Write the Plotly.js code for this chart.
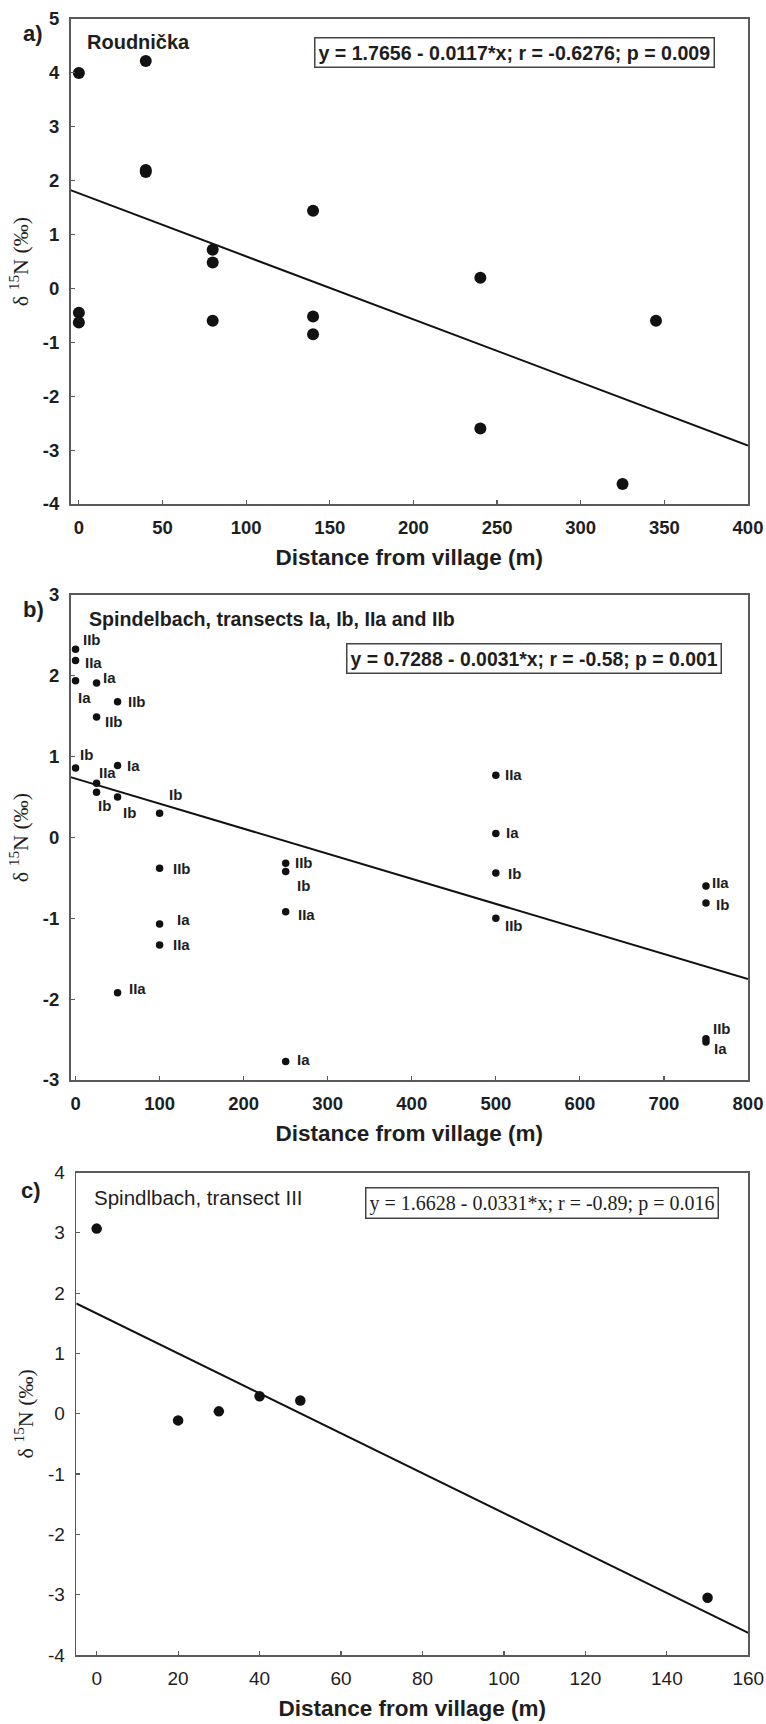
<!DOCTYPE html>
<html>
<head>
<meta charset="utf-8">
<script src="https://cdn.plot.ly/plotly-3.0.1.min.js"></script>
<style>html,body{margin:0;padding:0;background:#fff}</style>
</head>
<body>
<div id="chart" style="width:766px;height:1724px"></div>
<script>
// ---------- Panel a: Roudnička ----------
const aDistance = [0, 0, 0, 40, 40, 40, 80, 80, 80, 140, 140, 140, 240, 240, 325, 345];
const aDelta15N = [4.0, -0.45, -0.63, 4.22, 2.2, 2.16, 0.72, 0.48, -0.6, 1.44, -0.52, -0.85, 0.2, -2.6, -3.63, -0.6];
const aIntercept = 1.7656, aSlope = -0.0117;
const aEquation = "y = 1.7656 - 0.0117*x; r = -0.6276; p = 0.009";
const aName = "Roudnička";
const aXTicks = [0, 50, 100, 150, 200, 250, 300, 350, 400];
const aXTickText = ["0", "50", "100", "150", "200", "250", "300", "350", "400"];
const aYTicks = [-4, -3, -2, -1, 0, 1, 2, 3, 4, 5];
const aYTickText = ["-4", "-3", "-2", "-1", "0", "1", "2", "3", "4", "5"];

// ---------- Panel b: Spindelbach transects Ia, Ib, IIa, IIb ----------
const bDistance = [0, 0, 0, 25, 50, 25, 0, 25, 25, 50, 50, 100,
                   100, 100, 100, 50, 250, 250, 250, 250,
                   500, 500, 500, 500, 750, 750, 750, 750];
const bDelta15N = [2.33, 2.19, 1.94, 1.91, 1.68, 1.49, 0.86, 0.67, 0.56, 0.89, 0.5, 0.3,
                   -0.38, -1.07, -1.33, -1.92, -0.32, -0.42, -0.92, -2.77,
                   0.77, 0.05, -0.44, -1.0, -0.6, -0.81, -2.49, -2.53];
const bTransect = ["IIb", "IIa", "Ia", "Ia", "IIb", "IIb", "Ib", "IIa", "Ib", "Ia", "Ib", "Ib",
                   "IIb", "Ia", "IIa", "IIa", "IIb", "Ib", "IIa", "Ia",
                   "IIa", "Ia", "Ib", "IIb", "IIa", "Ib", "IIb", "Ia"];
const bIntercept = 0.7288, bSlope = -0.0031;
const bEquation = "y = 0.7288 - 0.0031*x; r = -0.58; p = 0.001";
const bName = "Spindelbach, transects Ia, Ib, IIa and IIb";
const bXTicks = [0, 100, 200, 300, 400, 500, 600, 700, 800];
const bXTickText = ["0", "100", "200", "300", "400", "500", "600", "700", "800"];
const bYTicks = [-3, -2, -1, 0, 1, 2, 3];
const bYTickText = ["-3", "-2", "-1", "0", "1", "2", "3"];

// ---------- Panel c: Spindlbach transect III ----------
const cDistance = [0, 20, 30, 40, 50, 150];
const cDelta15N = [3.07, -0.11, 0.04, 0.29, 0.22, -3.05];
const cIntercept = 1.6628, cSlope = -0.0331;
const cEquation = "y = 1.6628 - 0.0331*x; r = -0.89; p = 0.016";
const cName = "Spindlbach, transect III";
const cXTicks = [0, 20, 40, 60, 80, 100, 120, 140, 160];
const cXTickText = ["0", "20", "40", "60", "80", "100", "120", "140", "160"];
const cYTicks = [-4, -3, -2, -1, 0, 1, 2, 3, 4];
const cYTickText = ["-4", "-3", "-2", "-1", "0", "1", "2", "3", "4"];

const xTitle = "Distance from village (m)";
const yTitle = "δ <sup>15</sup>N (‰)";

// ---------- styling / placement (not data) ----------
const W = 766, H = 1724;
const px = v => v / W;
const py = v => 1 - v / H;
// label offsets for panel b (dx right, dy down in px)
const bLabelOffset = [[16,-10],[18,2],[9,17],[13,-6],[19,0],[17,4],[11,-13],[11,-11],[8,13],[16,0],[12,15],[16,-19],
                      [22,0],[24,-4],[22,-1],[20,-4],[18,-1],[18,14],[21,3],[18,-2],
                      [18,-1],[17,-1],[19,0],[18,7],[15,-4],[17,2],[16,-10],[15,6]];

const SANS = "Arial, 'Liberation Sans', sans-serif";
const SERIF = "'Times New Roman', 'Liberation Serif', serif";
const AX = '#5a5a5a';
const INK = '#1e1e1e';

function xAxis(domain, range, tv, tt, anchor, tickWeight, tickSize) {
  return {
    domain: domain, range: range, anchor: anchor,
    tickvals: tv, ticktext: tt,
    showline: true, mirror: true, linecolor: AX, linewidth: 1.6,
    ticks: 'inside', ticklen: 4, tickwidth: 1.2, tickcolor: AX,
    showgrid: false, zeroline: false,
    tickfont: {family: SANS, size: tickSize, color: INK, weight: tickWeight},
    ticklabelstandoff: 6,
    title: {text: xTitle, font: {family: SANS, size: 22.5, color: INK, weight: 'bold'}, standoff: 12}
  };
}
function yAxis(domain, range, tv, tt, anchor, tickWeight, tickSize) {
  return {
    domain: domain, range: range, anchor: anchor,
    tickvals: tv, ticktext: tt,
    showline: true, mirror: true, linecolor: AX, linewidth: 1.6,
    ticks: 'inside', ticklen: 4, tickwidth: 1.2, tickcolor: AX,
    showgrid: false, zeroline: false,
    tickfont: {family: SANS, size: tickSize, color: INK, weight: tickWeight},
    ticklabelstandoff: 6,
    title: {text: yTitle, font: {family: SERIF, size: 22, color: INK}, standoff: 8}
  };
}

const aXRange = [-5, 400], bXRange = [-6, 800], cXRange = [-5, 160];

const traces = [
  {x: aDistance, y: aDelta15N, xaxis: 'x', yaxis: 'y', type: 'scatter', mode: 'markers',
   marker: {size: 12, color: '#111'}, cliponaxis: false},
  {x: aXRange, y: aXRange.map(v => aIntercept + aSlope * v), xaxis: 'x', yaxis: 'y', type: 'scatter', mode: 'lines',
   line: {color: '#111', width: 2}},
  {x: bDistance, y: bDelta15N, xaxis: 'x2', yaxis: 'y2', type: 'scatter', mode: 'markers',
   marker: {size: 7.5, color: '#111'}, cliponaxis: false},
  {x: bXRange, y: bXRange.map(v => bIntercept + bSlope * v), xaxis: 'x2', yaxis: 'y2', type: 'scatter', mode: 'lines',
   line: {color: '#111', width: 2}},
  {x: cDistance, y: cDelta15N, xaxis: 'x3', yaxis: 'y3', type: 'scatter', mode: 'markers',
   marker: {size: 10.5, color: '#111'}, cliponaxis: false},
  {x: cXRange, y: cXRange.map(v => cIntercept + cSlope * v), xaxis: 'x3', yaxis: 'y3', type: 'scatter', mode: 'lines',
   line: {color: '#111', width: 2}}
];

const annotations = [];
function paperText(text, x, y, font, extra) {
  annotations.push(Object.assign({text: text, x: px(x), y: py(y), xref: 'paper', yref: 'paper',
    showarrow: false, xanchor: 'left', yanchor: 'middle', font: font}, extra || {}));
}
paperText('a)', 21, 33, {family: SANS, size: 22, color: INK, weight: 'bold'});
paperText('b)', 21, 610, {family: SANS, size: 22, color: INK, weight: 'bold'});
paperText('c)', 19, 1190, {family: SANS, size: 22, color: INK, weight: 'bold'});
paperText(aName, 85, 42, {family: SANS, size: 20, color: INK, weight: 'bold'});
paperText(bName, 87, 619, {family: SANS, size: 19.6, color: INK, weight: 'bold'});
paperText(cName, 92, 1197, {family: SANS, size: 20.5, color: INK});
const boxStyle = {xanchor: 'center', bordercolor: '#444', borderwidth: 1.5, borderpad: 3, bgcolor: '#fff'};
paperText(aEquation, 514, 52, {family: SANS, size: 19.6, color: INK, weight: 'bold'}, boxStyle);
paperText(bEquation, 533.5, 658.5, {family: SANS, size: 19.4, color: INK, weight: 'bold'}, boxStyle);
paperText(cEquation, 542, 1202.5, {family: SERIF, size: 20, color: INK}, boxStyle);

bTransect.forEach((t, i) => {
  annotations.push({text: t, x: bDistance[i], y: bDelta15N[i], xref: 'x2', yref: 'y2',
    showarrow: false, xanchor: 'center', yanchor: 'middle',
    xshift: bLabelOffset[i][0], yshift: -bLabelOffset[i][1],
    font: {family: SANS, size: 15, color: INK, weight: 'bold'}});
});

const layout = {
  width: W, height: H,
  margin: {l: 0, r: 0, t: 0, b: 0},
  paper_bgcolor: '#fff', plot_bgcolor: '#fff',
  showlegend: false,
  xaxis: xAxis([px(70.5), px(748)], aXRange, aXTicks, aXTickText, 'y', 'bold', 18.5),
  yaxis: yAxis([py(504), py(19)], [-4, 5], aYTicks, aYTickText, 'x', 'bold', 18.5),
  xaxis2: xAxis([px(70.5), px(748)], bXRange, bXTicks, bXTickText, 'y2', 'bold', 18.5),
  yaxis2: yAxis([py(1080), py(595)], [-3, 3], bYTicks, bYTickText, 'x2', 'bold', 18.5),
  xaxis3: xAxis([px(76.3), px(748.3)], cXRange, cXTicks, cXTickText, 'y3', 'normal', 19),
  yaxis3: yAxis([py(1655), py(1172.5)], [-4, 4], cYTicks, cYTickText, 'x3', 'normal', 19),
  annotations: annotations
};

Plotly.newPlot('chart', traces, layout, {displayModeBar: false, staticPlot: true});
</script>
</body>
</html>
